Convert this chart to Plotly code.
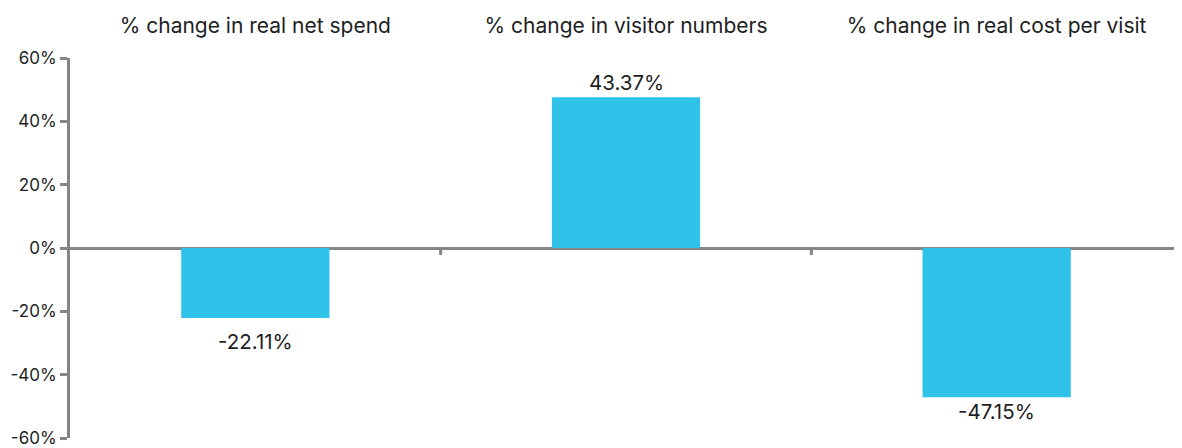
import plotly.graph_objects as go

categories = ["% change in real net spend", "% change in visitor numbers", "% change in real cost per visit"]
bar_values = [-22.11, 47.6, -47.15]          # bar heights as drawn in the picture
label_texts = ["-22.11%", "43.37%", "-47.15%"]  # data labels as printed
y_ticks = [-60, -40, -20, 0, 20, 40, 60]
y_tick_labels = ["-60%", "-40%", "-20%", "0%", "20%", "40%", "60%"]

FONT = "Inter"
AXIS = "#858585"
TXT = "#1e1e1e"
x_pos = list(range(len(categories)))

W, H = 1174, 440            # page body adds an 8px offset
M = dict(l=62, r=0, t=50, b=10)
Y_MIN, Y_MAX = -60, 60
ppu = (H - M["t"] - M["b"]) / (Y_MAX - Y_MIN)   # pixels per axis unit

fig = go.Figure()
fig.add_trace(go.Bar(
    x=x_pos, y=bar_values,
    marker=dict(color="#30C2E8", line=dict(width=0)),
    hoverinfo="skip",
))

annotations = []
for i, (v, t) in enumerate(zip(bar_values, label_texts)):
    if v >= 0:
        shift = 15
    else:
        shift = -min(23, (v - Y_MIN) * ppu - 27)
    annotations.append(dict(x=i, y=v, xref="x", yref="y", text=t, showarrow=False,
                            yanchor="middle", yshift=shift,
                            font=dict(family=FONT, size=20.5, color=TXT)))

shapes = []
for i in range(len(categories)):
    shapes.append(dict(type="line", xref="x", yref="y", x0=i + 0.5, x1=i + 0.5,
                       y0=0, y1=-2.2, line=dict(color=AXIS, width=3)))

fig.update_layout(
    width=W, height=H, margin=M,
    plot_bgcolor="white", paper_bgcolor="white",
    bargap=0.6, showlegend=False,
    font=dict(family=FONT, size=17, color=TXT),
    shapes=shapes, annotations=annotations,
    xaxis=dict(
        side="top", tickmode="array", tickvals=x_pos, ticktext=categories,
        range=[-0.5, len(categories) - 0.5], showline=False, ticks="",
        showgrid=False, zeroline=False, ticklabelstandoff=20, automargin=False,
        tickfont=dict(family=FONT, size=21, color=TXT),
    ),
    yaxis=dict(
        range=[Y_MIN, Y_MAX], tickmode="array", tickvals=y_ticks, ticktext=y_tick_labels,
        showline=True, linecolor=AXIS, linewidth=3, automargin=False,
        ticklabeloverflow="allow",
        ticks="outside", ticklen=7, tickwidth=3, tickcolor=AXIS,
        showgrid=False, zeroline=True, zerolinecolor=AXIS, zerolinewidth=3,
        tickfont=dict(family=FONT, size=17, color=TXT),
    ),
)

fig.write_html("out.html")
